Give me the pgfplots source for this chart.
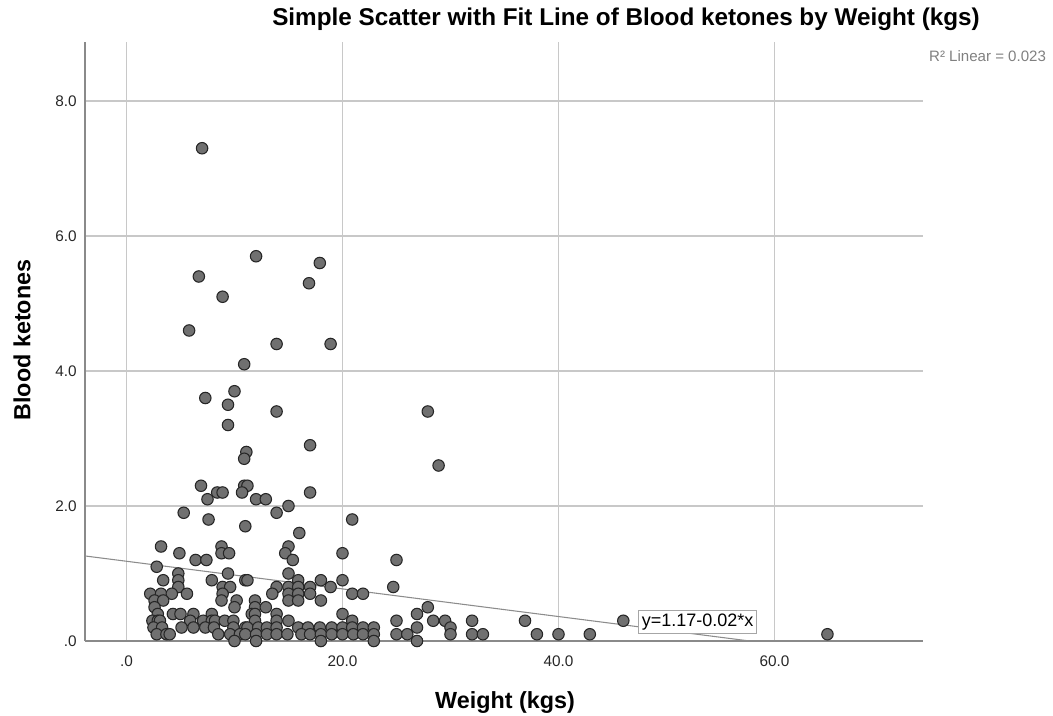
\documentclass[border=0pt]{standalone}
\usepackage{fontspec}
\setmainfont{Liberation Sans}
\usepackage{pgfplots}
\usepackage{pgfplotstable}
\pgfplotsset{compat=1.18}
\definecolor{gridc}{HTML}{C8C8C8}
\definecolor{axisc}{HTML}{8A8A8A}
\definecolor{dotfill}{HTML}{707070}
\definecolor{dotdraw}{HTML}{262626}
\definecolor{fitc}{HTML}{8C8C8C}
\pgfplotstableread{
x y
7.0 7.3
12.0 5.7
17.9 5.6
6.7 5.4
16.9 5.3
8.9 5.1
5.8 4.6
13.9 4.4
18.9 4.4
10.9 4.1
10.0 3.7
7.3 3.6
9.4 3.5
13.9 3.4
27.9 3.4
9.4 3.2
17.0 2.9
11.1 2.8
10.9 2.7
28.9 2.6
6.9 2.3
10.9 2.3
11.2 2.3
8.4 2.2
8.9 2.2
10.7 2.2
17.0 2.2
7.5 2.1
12.0 2.1
12.9 2.1
15.0 2.0
5.3 1.9
13.9 1.9
7.6 1.8
20.9 1.8
11.0 1.7
16.0 1.6
3.2 1.4
8.8 1.4
15.0 1.4
4.9 1.3
8.8 1.3
9.5 1.3
14.7 1.3
20.0 1.3
6.4 1.2
7.4 1.2
15.4 1.2
25.0 1.2
2.8 1.1
4.8 1.0
9.4 1.0
15.0 1.0
3.4 0.9
4.8 0.9
7.9 0.9
11.0 0.9
11.2 0.9
15.9 0.9
18.0 0.9
20.0 0.9
4.8 0.8
8.9 0.8
9.6 0.8
13.9 0.8
15.0 0.8
15.9 0.8
17.0 0.8
18.9 0.8
24.7 0.8
2.2 0.7
3.2 0.7
4.2 0.7
5.6 0.7
8.9 0.7
13.5 0.7
15.0 0.7
15.9 0.7
17.0 0.7
20.9 0.7
21.9 0.7
2.6 0.6
3.4 0.6
8.8 0.6
10.2 0.6
11.9 0.6
15.0 0.6
15.9 0.6
18.0 0.6
2.6 0.5
10.0 0.5
11.9 0.5
12.9 0.5
27.9 0.5
2.9 0.4
4.3 0.4
5.0 0.4
6.2 0.4
7.9 0.4
11.6 0.4
11.9 0.4
13.9 0.4
20.0 0.4
26.9 0.4
2.4 0.3
2.9 0.3
3.1 0.3
5.9 0.3
7.1 0.3
7.9 0.3
8.2 0.3
9.1 0.3
9.9 0.3
11.9 0.3
13.9 0.3
15.0 0.3
20.9 0.3
25.0 0.3
28.4 0.3
29.5 0.3
32.0 0.3
36.9 0.3
46.0 0.3
2.5 0.2
3.3 0.2
5.1 0.2
6.2 0.2
7.3 0.2
8.1 0.2
9.9 0.2
11.0 0.2
11.2 0.2
12.2 0.2
13.0 0.2
13.9 0.2
15.9 0.2
16.8 0.2
17.9 0.2
19.0 0.2
20.0 0.2
20.9 0.2
21.9 0.2
22.9 0.2
26.9 0.2
30.0 0.2
2.8 0.1
3.7 0.1
4.0 0.1
8.5 0.1
9.6 0.1
10.5 0.1
11.0 0.1
12.0 0.1
13.0 0.1
13.9 0.1
14.9 0.1
16.2 0.1
17.0 0.1
18.0 0.1
19.0 0.1
20.0 0.1
21.0 0.1
21.9 0.1
22.9 0.1
25.0 0.1
26.0 0.1
30.0 0.1
32.0 0.1
33.0 0.1
38.0 0.1
40.0 0.1
42.9 0.1
64.9 0.1
10.0 0.0
12.0 0.0
18.0 0.0
22.9 0.0
26.9 0.0
}\pts
\begin{document}
\begin{tikzpicture}
\path[use as bounding box] (0pt,0pt) rectangle (789.75pt,-537pt);
\begin{axis}[
  at={(63.75pt,-480.75pt)}, anchor=south west,
  scale only axis, width=628.5pt, height=449.25pt,
  xmin=-3.84, xmax=73.75, ymin=0, ymax=8.874,
  axis x line=bottom, axis y line=left,
  axis line style={axisc, line width=0.9pt, -},
  xtick={0,20,40,60}, xticklabels={.0,20.0,40.0,60.0},
  ytick={0,2,4,6,8}, yticklabels={.0,2.0,4.0,6.0,8.0},
  major tick length=0pt,
  xmajorgrids, ymajorgrids,
  major grid style={gridc, line width=0.9pt},
  tick label style={font=\fontsize{11.5}{13}\selectfont, text=black!85},
  xticklabel style={anchor=north, inner sep=0pt, yshift=-11pt},
  yticklabel style={anchor=east, inner sep=0pt, xshift=-6pt},
  /pgf/number format/assume math mode=true,
]
\addplot[fitc, line width=0.8pt] coordinates {(-3.84,1.26) (57.7,0)};
\addplot[only marks, mark=*, mark size=4.3pt,
  mark options={fill=dotfill, draw=dotdraw, line width=0.8pt}] table[x=x,y=y] {\pts};
\node[draw=gray!70, fill=white, anchor=west, inner sep=2.6pt, line width=0.6pt,
  font=\fontsize{13.5}{15}\selectfont] at (axis cs:47.36,0.28) {y=1.17-0.02*x};
\end{axis}
\node[font=\bfseries\fontsize{18.2}{21}\selectfont] at (469.5pt,-14.25pt)
  {Simple Scatter with Fit Line of Blood ketones by Weight (kgs)};
\node[anchor=east, text=gray, font=\fontsize{11.3}{13}\selectfont] at (788pt,-42pt)
  {R² Linear = 0.023};
\node[rotate=90, font=\bfseries\fontsize{17.5}{20}\selectfont] at (16.5pt,-255pt)
  {Blood ketones};
\node[font=\bfseries\fontsize{17.5}{20}\selectfont] at (378.75pt,-527.25pt)
  {Weight (kgs)};
\end{tikzpicture}
\end{document}
